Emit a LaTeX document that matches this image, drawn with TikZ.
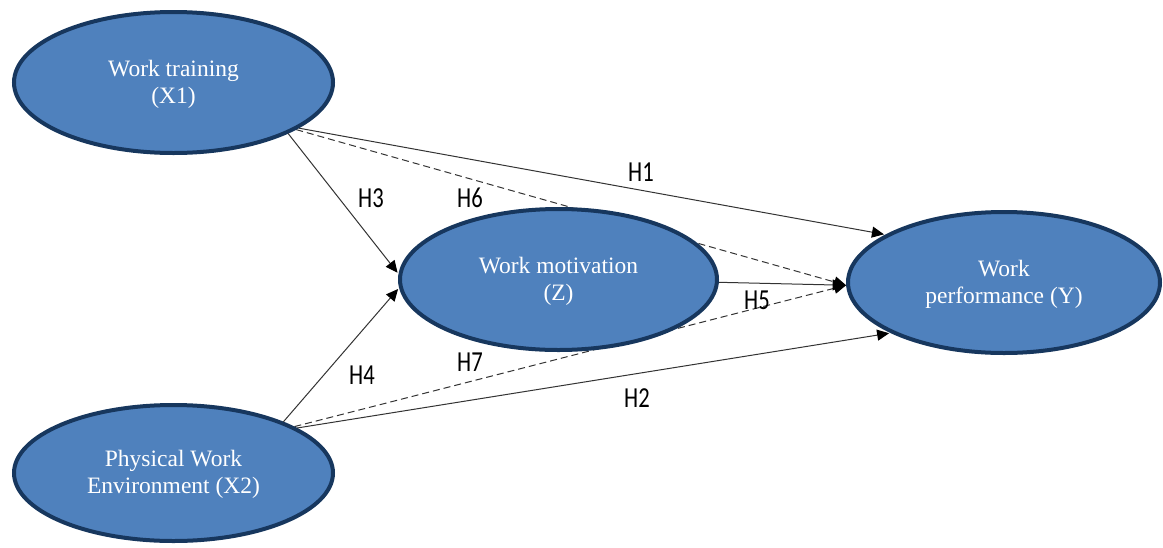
\documentclass[tikz,border=0pt]{standalone}
\usepackage{fontspec}
\setmainfont{Liberation Serif}
\newfontfamily\hypfont[FakeStretch=0.78]{Carlito}
\usepackage{xcolor}
\usepackage{tikz}
\usetikzlibrary{arrows.meta,shapes.geometric,backgrounds}
\definecolor{varfill}{HTML}{4F81BD}
\definecolor{varline}{HTML}{17375E}

\begin{document}
\begin{tikzpicture}[
  x=1pt,y=-1pt,
  font=\fontsize{23.5}{27}\selectfont,
  var/.style={ellipse,draw=varline,line width=4pt,fill=varfill,text=white,align=center,inner sep=0pt,
    text height=45pt,text depth=4pt,minimum width=319pt,minimum height=141pt},
  link/.style={-{Triangle[length=12pt,width=11pt,color=black]},line width=1pt,draw=black!80,shorten >=1.5pt},
  indirect/.style={link,dash pattern=on 7pt off 4pt},
  hyp/.style={font=\hypfont\fontsize{29}{30}\selectfont,inner sep=0pt}
]
\useasboundingbox (0,0) rectangle (1163,547);

% variables
\node[var] (X1) at (173.5,82.5) {Work training\\(X1)};
\node[var,minimum height=136pt] (X2) at (173.5,473) {Physical Work\\Environment (X2)};
\node[var,minimum width=317pt] (Z) at (558.5,279.5) {Work motivation\\(Z)};
\node[var,minimum width=312pt] (Y) at (1004,282.5) {Work\\performance (Y)};

% direct paths
\draw[link] (X1.-20) -- (Y.158);
\draw[link] (X2.20) -- (Y.-156);
\draw[link] (X1.-24) -- (Z.178);
\draw[link] (X2.25) -- (Z.183);
\draw[link] (Z.-1) -- (Y.181);

% mediated paths, behind the ellipses
\begin{pgfonlayer}{background}
\draw[indirect,shorten >=0pt] (X1.-21) -- (Y.181);
\draw[indirect,shorten >=0pt] (X2.21.5) -- (Y.181);
\end{pgfonlayer}

% hypothesis labels
\node[hyp] (h1) at (641,172) {H1};
\node[hyp] (h2) at (637,398) {H2};
\node[hyp] (h3) at (371,198) {H3};
\node[hyp] (h4) at (362,375) {H4};
\node[hyp] (h5) at (757,300) {H5};
\node[hyp] (h6) at (470,198) {H6};
\node[hyp] (h7) at (470,362) {H7};
\end{tikzpicture}
\end{document}
